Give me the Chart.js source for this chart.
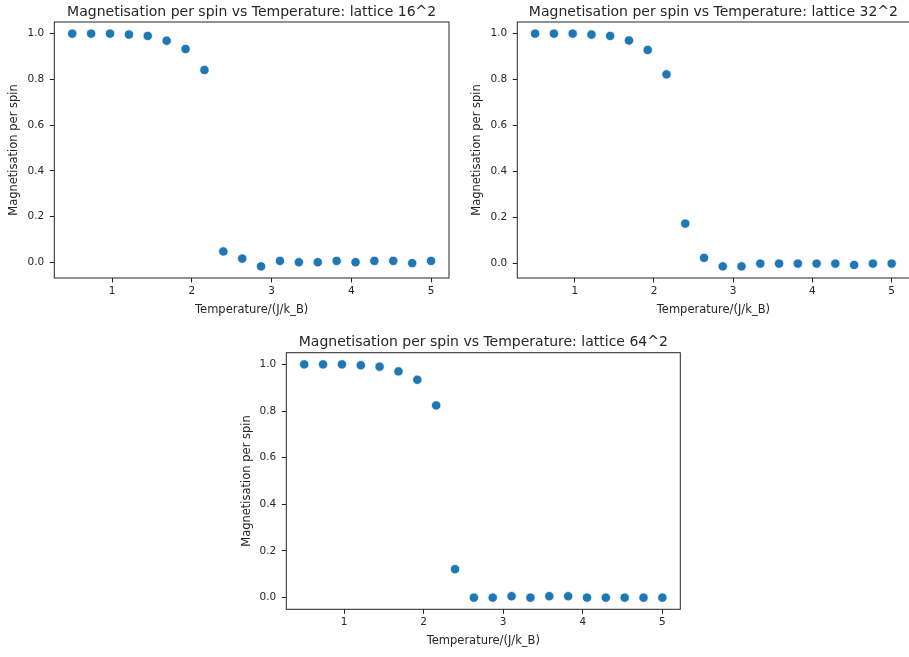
<!DOCTYPE html>
<html>
<head>
<meta charset="utf-8">
<script src="https://cdn.jsdelivr.net/npm/chart.js@4.4.0/dist/chart.umd.min.js"></script>
<style>
  html, body { margin: 0; padding: 0; background: #fff; }
  #figure { position: relative; width: 909px; height: 657px; overflow: hidden; }
  #figure canvas { position: absolute; }
</style>
</head>
<body>
<div id="figure">
  <canvas id="lattice16" width="455" height="320" style="left:0px;top:0px"></canvas>
  <canvas id="lattice32" width="460" height="320" style="left:455px;top:0px"></canvas>
  <canvas id="lattice64" width="470" height="332" style="left:220px;top:325px"></canvas>
</div>
<script>
// Temperature sweep (J/k_B) and magnetisation per spin for each lattice size
const temperatures = [0.5, 0.737, 0.974, 1.211, 1.447, 1.684, 1.921, 2.158, 2.395, 2.632,
                      2.868, 3.105, 3.342, 3.579, 3.816, 4.053, 4.289, 4.526, 4.763, 5.0];
const mag16 = [1.0, 1.0, 1.0, 0.996, 0.990, 0.969, 0.933, 0.841, 0.048, 0.017,
               -0.017, 0.007, 0.001, 0.001, 0.007, 0.001, 0.007, 0.007, -0.003, 0.007];
const mag32 = [1.0, 1.0, 1.0, 0.996, 0.990, 0.970, 0.929, 0.823, 0.174, 0.025,
               -0.012, -0.012, 0.0, 0.0, 0.0, 0.0, 0.0, -0.006, 0.0, 0.0];
const mag64 = [1.0, 1.0, 1.0, 0.996, 0.990, 0.970, 0.934, 0.824, 0.122, 0.0,
               0.0, 0.006, 0.0, 0.006, 0.006, 0.0, 0.0, 0.0, 0.0, 0.0];
const xTicks = [1, 2, 3, 4, 5];
const yTicks = [0.0, 0.2, 0.4, 0.6, 0.8, 1.0];

const TEXT = '#262626';
const FONT = 'DejaVu Sans';

// autoscale with a 5% margin either side of the data range
function paddedRange(values) {
  const lo = Math.min(...values), hi = Math.max(...values);
  const m = (hi - lo) * 0.05;
  return [lo - m, hi + m];
}

// box around the plot area plus the title centred over it
const frameAndTitle = {
  id: 'frameAndTitle',
  afterDraw(chart, args, opts) {
    const { ctx, chartArea: a } = chart;
    ctx.save();
    ctx.strokeStyle = TEXT;
    ctx.lineWidth = 1;
    ctx.strokeRect(a.left, a.top, a.right - a.left, a.bottom - a.top);
    ctx.fillStyle = TEXT;
    ctx.font = `14px "${FONT}"`;
    ctx.textAlign = 'center';
    ctx.textBaseline = 'alphabetic';
    ctx.fillText(opts.text, (a.left + a.right) / 2, a.top - 6.5);
    ctx.restore();
  }
};

function makeChart(id, title, mags, pad, yWidth) {
  const [xMin, xMax] = paddedRange(temperatures);
  const [yMin, yMax] = paddedRange(mags);
  const tickGrid = { display: true, drawOnChartArea: false, drawTicks: true, tickLength: 4.5, color: TEXT, lineWidth: 1 };

  new Chart(document.getElementById(id), {
    type: 'scatter',
    data: {
      datasets: [{
        data: temperatures.map((t, i) => ({ x: t, y: mags[i] })),
        backgroundColor: '#1f77b4',
        borderColor: '#ffffff',
        borderWidth: 0.8,
        pointRadius: 4.7,
        pointHoverRadius: 4.7
      }]
    },
    options: {
      responsive: false,
      animation: false,
      events: [],
      layout: { padding: pad },
      scales: {
        x: {
          type: 'linear',
          min: xMin,
          max: xMax,
          afterBuildTicks: s => { s.ticks = xTicks.map(v => ({ value: v })); },
          afterFit: s => { s.height = 42; },
          ticks: {
            color: TEXT, font: { family: FONT, size: 10.5 }, padding: 2.5,
            maxRotation: 0, autoSkip: false,
            callback: v => String(v)
          },
          grid: tickGrid,
          border: { display: false },
          title: {
            display: true, text: 'Temperature/(J/k_B)', color: TEXT,
            font: { family: FONT, size: 11.5 }, padding: { top: 3, bottom: 3 }
          }
        },
        y: {
          type: 'linear',
          min: yMin,
          max: yMax,
          afterBuildTicks: s => { s.ticks = yTicks.map(v => ({ value: v })); },
          afterFit: s => { s.width = yWidth; },
          ticks: {
            color: TEXT, font: { family: FONT, size: 10.5 }, padding: 5.5,
            autoSkip: false,
            callback: v => v.toFixed(1)
          },
          grid: tickGrid,
          border: { display: false },
          title: {
            display: true, text: 'Magnetisation per spin', color: TEXT,
            font: { family: FONT, size: 11.5 }, padding: { top: 3, bottom: 3 }
          }
        }
      },
      plugins: {
        legend: { display: false },
        tooltip: { enabled: false },
        frameAndTitle: { text: title }
      }
    },
    plugins: [frameAndTitle]
  });
}

makeChart('lattice16', 'Magnetisation per spin vs Temperature: lattice 16^2', mag16,
  { left: 4, right: 6, top: 22, bottom: 0 }, 50.3);
makeChart('lattice32', 'Magnetisation per spin vs Temperature: lattice 32^2', mag32,
  { left: 12, right: 1.7, top: 22, bottom: 0 }, 50.3);
makeChart('lattice64', 'Magnetisation per spin vs Temperature: lattice 64^2', mag64,
  { left: 16.7, right: 9.7, top: 27.7, bottom: 5.7 }, 49.6);
</script>
</body>
</html>
